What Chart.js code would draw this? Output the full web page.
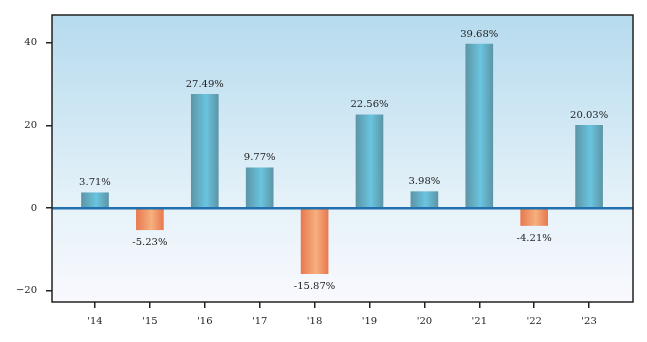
<!DOCTYPE html>
<html>
<head>
<meta charset="utf-8">
<script src="https://cdn.jsdelivr.net/npm/chart.js@4/dist/chart.umd.min.js"></script>
<style>
html,body{margin:0;padding:0;background:#fff;}
#wrap{width:647px;height:342px;position:relative;}
</style>
</head>
<body>
<div id="wrap"><canvas id="c" width="647" height="342"></canvas></div>
<script>
const categories = ["'14","'15","'16","'17","'18","'19","'20","'21","'22","'23"];
const returns = [3.71, -5.23, 27.49, 9.77, -15.87, 22.56, 3.98, 39.68, -4.21, 20.03];
const yTicks = [-20, 0, 20, 40];

const FONT = 'DejaVu Serif';

function barGradient(ctx) {
  const chart = ctx.chart;
  const area = chart.chartArea;
  const v = ctx.raw ? ctx.raw.y : 0;
  if (!area || !chart.scales.x) return v < 0 ? '#ee9064' : '#64b0c8';
  const cx = chart.scales.x.getPixelForValue(ctx.dataIndex);
  const half = 13.5;
  const g = chart.ctx.createLinearGradient(cx - half, 0, cx + half, 0);
  if (v < 0) {
    g.addColorStop(0, '#e9794f');
    g.addColorStop(0.55, '#f6b07f');
    g.addColorStop(1, '#e9794f');
  } else {
    g.addColorStop(0, '#5c96a7');
    g.addColorStop(0.55, '#6ac4df');
    g.addColorStop(1, '#5c96a7');
  }
  return g;
}

const bgPlugin = {
  id: 'bg',
  beforeDraw(chart) {
    const {ctx, chartArea: a} = chart;
    const g = ctx.createLinearGradient(0, a.top, 0, a.bottom);
    g.addColorStop(0, '#b6dbee');
    g.addColorStop(0.67, '#e6f2f9');
    g.addColorStop(1, '#f9f9fe');
    ctx.save();
    ctx.fillStyle = g;
    ctx.fillRect(a.left, a.top, a.right - a.left, a.bottom - a.top);
    ctx.restore();
  },
  afterDatasetsDraw(chart) {
    const {ctx, chartArea: a, scales} = chart;
    const y0 = scales.y.getPixelForValue(0);
    ctx.save();
    ctx.strokeStyle = '#2271ae';
    ctx.lineWidth = 2.5;
    ctx.beginPath();
    ctx.moveTo(a.left, y0);
    ctx.lineTo(a.right, y0);
    ctx.stroke();
    ctx.fillStyle = '#222';
    ctx.font = '10px "' + FONT + '"';
    ctx.textAlign = 'center';
    ctx.textBaseline = 'middle';
    returns.forEach((v, i) => {
      const x = scales.x.getPixelForValue(i);
      const y = scales.y.getPixelForValue(v);
      const txt = v.toFixed(2) + '%';
      if (v >= 0) ctx.fillText(txt, x, y - 10);
      else ctx.fillText(txt, x, y + 13);
    });
    ctx.restore();
  },
  afterDraw(chart) {
    const {ctx, chartArea: a} = chart;
    ctx.save();
    ctx.strokeStyle = '#222';
    ctx.lineWidth = 1.5;
    ctx.strokeRect(a.left, a.top, a.right - a.left, a.bottom - a.top);
    ctx.restore();
  }
};

new Chart(document.getElementById('c'), {
  type: 'bar',
  data: {
    datasets: [{
      data: returns.map((v, i) => ({x: i, y: v})),
      backgroundColor: barGradient,
      borderWidth: 0,
      barThickness: 27
    }]
  },
  options: {
    responsive: false,
    animation: false,
    devicePixelRatio: 1,
    layout: {padding: {left: 0, right: 14, top: 15, bottom: 0}},
    plugins: {legend: {display: false}, tooltip: {enabled: false}},
    scales: {
      x: {
        type: 'linear',
        min: -0.783,
        max: 9.80,
        offset: false,
        afterBuildTicks(s) { s.ticks = categories.map((_, i) => ({value: i})); },
        afterFit(s) { s.height = 40; },
        ticks: {
          autoSkip: false, maxRotation: 0,
          callback: (v) => categories[v] ?? '',
          color: '#222', font: {family: FONT, size: 10}, padding: 7
        },
        grid: {offset: false, drawOnChartArea: false, drawTicks: true, tickLength: 6, color: '#222', lineWidth: 1.5},
        border: {display: false}
      },
      y: {
        min: -22.7,
        max: 46.7,
        afterBuildTicks(s) { s.ticks = yTicks.map(v => ({value: v})); },
        afterFit(s) { s.width = 52; },
        ticks: {
          callback: (v) => v < 0 ? '\u2212' + Math.abs(v) : String(v),
          color: '#222', font: {family: FONT, size: 10}, padding: 9
        },
        grid: {drawOnChartArea: false, drawTicks: true, tickLength: 6, color: '#222', lineWidth: 1.5},
        border: {display: false}
      }
    }
  },
  plugins: [bgPlugin]
});
</script>
</body>
</html>
